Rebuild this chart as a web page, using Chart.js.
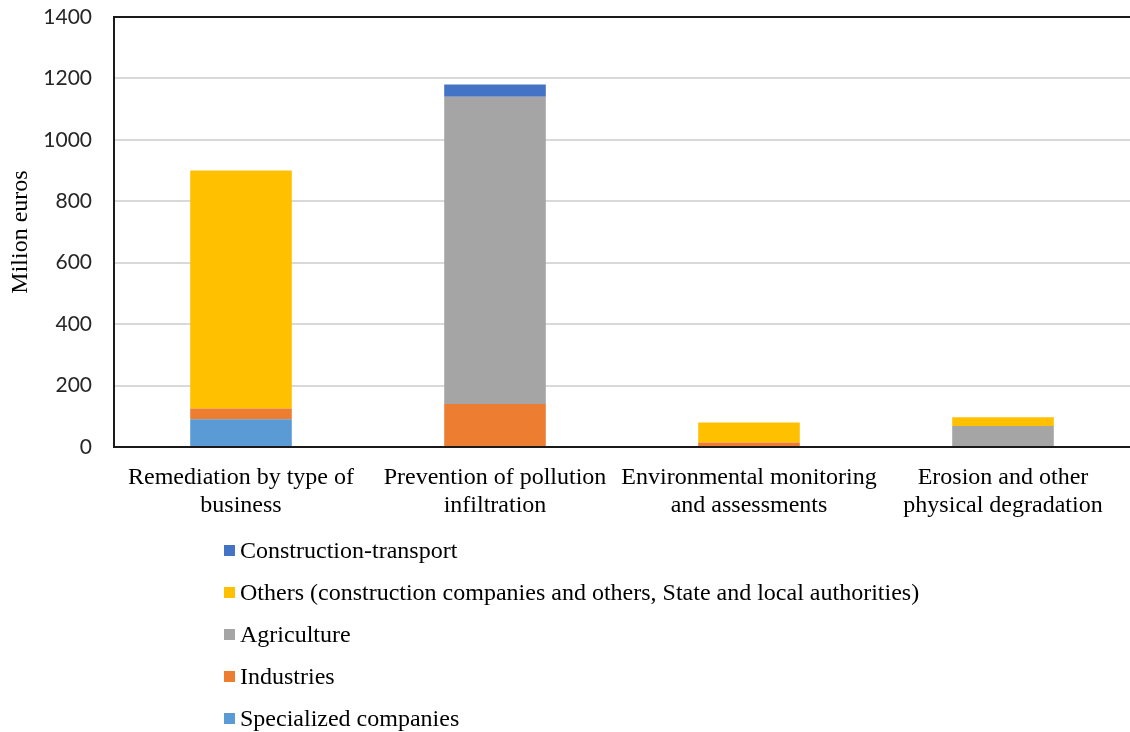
<!DOCTYPE html>
<html>
<head>
<meta charset="utf-8">
<script src="https://cdn.jsdelivr.net/npm/chart.js"></script>
<style>
    body { margin: 0; background: #fff; }
    #wrap { position: relative; width: 1130px; height: 732px; }
    #legend { position: absolute; left: 224px; top: 529px; font-family: "Liberation Serif", "Times New Roman", serif; font-size: 24px; color: #000; }
    .item { height: 42px; display: flex; align-items: center; }
    .box { width: 11px; height: 11px; margin-right: 5px; }
</style>
</head>
<body>
<div id="wrap">
    <canvas id="chart" width="1130" height="732"></canvas>
    <div id="legend"></div>
</div>
<script>
const categories = [
    ['Remediation by type of', 'business'],
    ['Prevention of pollution', 'infiltration'],
    ['Environmental monitoring', 'and assessments'],
    ['Erosion and other', 'physical degradation']
];
const specialized = [90, 0, 0, 0];
const industries = [35, 140, 15, 0];
const agriculture = [0, 1000, 0, 68];
const others = [775, 0, 65, 29];
const construction = [0, 40, 0, 0];
const yTicks = [0, 200, 400, 600, 800, 1000, 1200, 1400];

const series = [
    { label: 'Specialized companies', data: specialized, color: '#5B9BD5' },
    { label: 'Industries', data: industries, color: '#ED7D31' },
    { label: 'Agriculture', data: agriculture, color: '#A5A5A5' },
    { label: 'Others (construction companies and others, State and local authorities)', data: others, color: '#FFC000' },
    { label: 'Construction-transport', data: construction, color: '#4472C4' }
];

// frame round the plot area (top, left, bottom)
const frame = {
    id: 'frame',
    afterDraw(chart) {
        const { ctx, chartArea: a } = chart;
        ctx.save();
        ctx.strokeStyle = '#1a1a1a';
        ctx.lineWidth = 2;
        ctx.beginPath();
        ctx.moveTo(a.right, a.top);
        ctx.lineTo(a.left, a.top);
        ctx.lineTo(a.left, a.bottom);
        ctx.lineTo(a.right, a.bottom);
        ctx.stroke();
        ctx.restore();
    }
};

new Chart(document.getElementById('chart'), {
    type: 'bar',
    data: {
        labels: categories,
        datasets: series.map(s => ({
            label: s.label,
            data: s.data,
            backgroundColor: s.color,
            borderWidth: 0,
            barPercentage: 0.4,
            categoryPercentage: 1
        }))
    },
    options: {
        responsive: false,
        animation: false,
        layout: { padding: { top: 17, left: 0, right: 0, bottom: 0 } },
        plugins: { legend: { display: false }, tooltip: { enabled: false } },
        scales: {
            x: {
                stacked: true,
                grid: { display: false },
                border: { display: false },
                ticks: {
                    color: '#000',
                    padding: 9,
                    autoSkip: false,
                    font: { family: '"Liberation Serif", serif', size: 24, lineHeight: 1.15 },
                    maxRotation: 0
                },
                afterFit(scale) { scale.height = 285; }
            },
            y: {
                stacked: true,
                min: 0,
                max: 1400,
                afterBuildTicks(scale) { scale.ticks = yTicks.map(v => ({ value: v })); },
                grid: { color: '#d9d9d9', lineWidth: 2, drawTicks: false },
                border: { display: false },
                ticks: {
                    color: '#262626',
                    padding: 22,
                    font: { family: 'Lato, "Liberation Sans", sans-serif', size: 21 },
                    callback: v => String(v)
                },
                title: {
                    display: true,
                    text: 'Milion euros',
                    color: '#000',
                    padding: { top: 6, bottom: 0 },
                    font: { family: '"Liberation Serif", serif', size: 24 }
                },
                afterFit(scale) {
                    scale.width = 114;
                    scale.paddingTop = 0;
                    scale.paddingBottom = 0;
                }
            }
        }
    },
    plugins: [frame]
});

const legend = document.getElementById('legend');
series.slice().reverse().forEach(s => {
    const item = document.createElement('div');
    item.className = 'item';
    item.innerHTML = '<span class="box" style="background:' + s.color + '"></span>' + s.label;
    legend.appendChild(item);
});
</script>
</body>
</html>
